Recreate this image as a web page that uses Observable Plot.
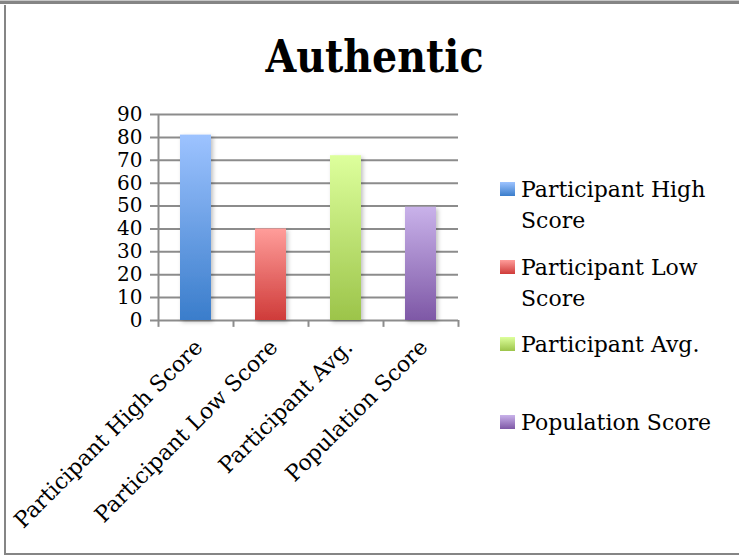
<!DOCTYPE html>
<html>
<head>
<meta charset="utf-8">
<script src="https://cdn.jsdelivr.net/npm/d3@7"></script>
<script src="https://cdn.jsdelivr.net/npm/@observablehq/plot@0.6"></script>
<style>
  html, body { margin: 0; padding: 0; background: #fff; }
  #wrap { position: relative; width: 739px; height: 559px; overflow: hidden;
    font-family: "DejaVu Serif", serif; color: #000; }
  .ln { position: absolute; background: #858585; }
  #title { position: absolute; left: 5px; top: 35px; width: 739px; text-align: center;
    font-family: "DejaVu Serif Condensed", "DejaVu Serif", serif; font-stretch: condensed;
    font-size: 44px; line-height: 44px; font-weight: bold; }
  #chart { position: absolute; left: 0; top: 0; }
  .leg { position: absolute; left: 500px; width: 230px; }
  .leg .sw { position: absolute; left: 0; top: 8px; width: 15px; height: 14px; }
  .leg .tx { position: absolute; left: 21px; top: 0; width: 205px; font-size: 22px; line-height: 31px; }
</style>
</head>
<body>
<div id="wrap">
  <div class="ln" style="left:0;top:0;width:739px;height:1px;background:#c8c8c8"></div>
  <div class="ln" style="left:0;top:1px;width:739px;height:3px;"></div>
  <div class="ln" style="left:4px;top:5px;width:2px;height:550px;"></div>
  <div class="ln" style="left:4px;top:553px;width:735px;height:2px;"></div>
  <div id="title">Authentic</div>
  <div id="chart"></div>
  <div id="legend"></div>
</div>
<script>
// ---- data ----
const categories = ["Participant High Score", "Participant Low Score", "Participant Avg.", "Population Score"];
const scores = [81, 40, 72, 49.5];
const yTicks = [0, 10, 20, 30, 40, 50, 60, 70, 80, 90];
const legendLabels = ["Participant High Score", "Participant Low Score", "Participant Avg.", "Population Score"];
// ---- styles ----
const gradTop = ["#9dc3ff", "#ff9d9a", "#ddff9c", "#c9b2ea"];
const gradBottom = ["#3a7dcb", "#cf3b39", "#9cc44a", "#7e58a6"];

const W = 739, H = 559;
const mL = 158, mR = 281, mT = 114, mB = 239;
const half = (W - mL - mR) / categories.length / 2;
const gridColor = "#8c8c8c";
const font = '"DejaVu Serif", serif';

const data = categories.map((c, i) => ({ category: c, score: scores[i], fill: `url(#grad${i})` }));
const last = categories[categories.length - 1];

const chart = Plot.plot({
  width: W, height: H,
  marginLeft: mL, marginRight: mR, marginTop: mT, marginBottom: mB,
  style: { fontFamily: font, background: "transparent", overflow: "visible" },
  x: { domain: categories, paddingInner: 0.587, paddingOuter: 0.2935, axis: null },
  y: { domain: [0, 90], axis: null },
  color: { type: "identity" },
  marks: [
    Plot.ruleY(yTicks, { y: d => d, stroke: gridColor, strokeWidth: 2, insetLeft: -8 }),
    Plot.barY(data, { x: "category", y: "score", fill: "fill" }),
    Plot.ruleX(categories, { x: d => d, dx: -half, y1: () => -3, y2: () => 0, stroke: gridColor, strokeWidth: 2 }),
    Plot.ruleX([last], { x: d => d, dx: half, y1: () => -3, y2: () => 0, stroke: gridColor, strokeWidth: 2 }),
    Plot.ruleX([categories[0]], { x: d => d, dx: -half, y1: () => 0, y2: () => 90, stroke: gridColor, strokeWidth: 2 }),
    Plot.text(yTicks, { y: d => d, frameAnchor: "left", dx: -16, textAnchor: "end", text: d => String(d),
      fontSize: 20, fill: "#000", fontFamily: font }),
    Plot.text(categories, { x: d => d, y: () => 0, text: d => d, rotate: -45, textAnchor: "end",
      dx: 3, dy: 23, fontSize: 22, fill: "#000", fontFamily: font })
  ]
});

const svg = d3.select(chart);
const defs = svg.insert("defs", ":first-child");
gradTop.forEach((c, i) => {
  const g = defs.append("linearGradient").attr("id", "grad" + i)
    .attr("x1", 0).attr("y1", 0).attr("x2", 0).attr("y2", 1);
  g.append("stop").attr("offset", "0%").attr("stop-color", c);
  g.append("stop").attr("offset", "100%").attr("stop-color", gradBottom[i]);
});
const f = defs.append("filter").attr("id", "shadow").attr("x", "-20%").attr("y", "-10%").attr("width", "150%").attr("height", "130%");
f.append("feDropShadow").attr("dx", 2).attr("dy", 2).attr("stdDeviation", 2)
  .attr("flood-color", "#000").attr("flood-opacity", 0.25);
svg.selectAll("g[aria-label='bar'] rect").attr("filter", "url(#shadow)");

document.getElementById("chart").appendChild(chart);

const legend = document.getElementById("legend");
legendLabels.forEach((label, i) => {
  const item = document.createElement("div");
  item.className = "leg";
  item.style.top = (174 + i * 77.7) + "px";
  const sw = document.createElement("div");
  sw.className = "sw";
  sw.style.background = `linear-gradient(${gradTop[i]}, ${gradBottom[i]})`;
  const tx = document.createElement("div");
  tx.className = "tx";
  tx.textContent = label;
  item.appendChild(sw);
  item.appendChild(tx);
  legend.appendChild(item);
});
</script>
</body>
</html>
